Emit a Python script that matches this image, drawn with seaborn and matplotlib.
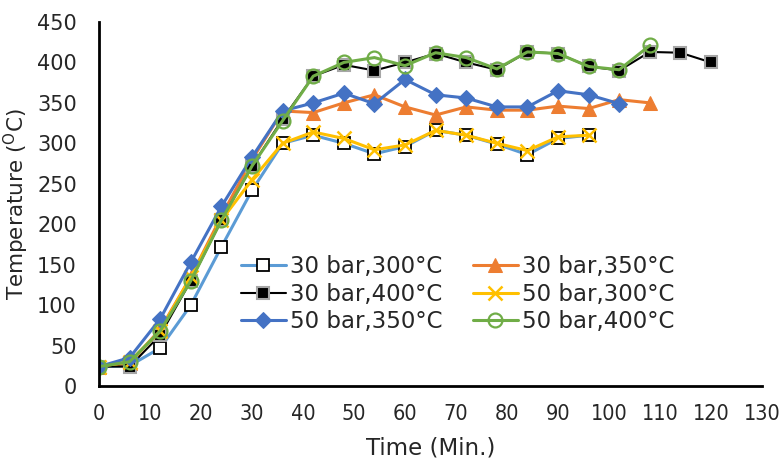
import matplotlib
matplotlib.use("Agg")
import matplotlib.pyplot as plt
import numpy as np
import seaborn as sns

# Temps (min) et températures
time = [0, 6, 12, 18, 24, 30, 36, 42, 48, 54, 60, 66, 72, 78, 84, 90, 96, 102, 108, 114, 120]

t_30_300 = [24, 25, 47, 100, 172, 242, 300, 310, 300, 287, 296, 316, 310, 299, 286, 306, 310]
t_30_350 = [24, 28, 70, 135, 210, 280, 340, 338, 350, 360, 345, 335, 345, 341, 341, 346, 343, 354, 350]
t_30_400 = [24, 24, 63, 130, 205, 272, 330, 383, 397, 390, 400, 411, 400, 391, 413, 411, 395, 390, 413, 412, 400]
t_50_300 = [24, 30, 68, 135, 205, 255, 300, 314, 306, 292, 298, 316, 310, 300, 291, 308, 310]
t_50_350 = [24, 35, 83, 153, 222, 283, 340, 350, 362, 349, 379, 360, 356, 345, 345, 365, 360, 349]
t_50_400 = [24, 30, 68, 130, 205, 272, 328, 383, 400, 406, 396, 412, 406, 392, 413, 411, 395, 391, 421]

labels = ["30 bar,300°C", "30 bar,350°C", "30 bar,400°C",
          "50 bar,300°C", "50 bar,350°C", "50 bar,400°C"]

x_ticks = list(range(0, 131, 10))
y_ticks = list(range(0, 451, 50))

sns.set_style("white")
plt.rcParams["font.family"] = ["DejaVu Sans"]

fig = plt.figure(figsize=(7.84, 4.66), dpi=100)
ax = fig.add_axes([0.1263, 0.1717, 0.8457, 0.7811])

styles = [
    dict(color="#5B9BD5", lw=2.2, marker="s", markersize=9, markerfacecolor="white",
         markeredgecolor="black", markeredgewidth=1.3),
    dict(color="#ED7D31", lw=2.2, marker="^", markersize=10, markerfacecolor="#ED7D31",
         markeredgecolor="#ED7D31"),
    dict(color="black", lw=1.5, marker="s", markersize=8, markerfacecolor="black",
         markeredgecolor="#A6A6A6", markeredgewidth=1.5),
    dict(color="#FFC000", lw=2.2, marker="x", markersize=10, markeredgecolor="#FFC000",
         markeredgewidth=1.8),
    dict(color="#4472C4", lw=2.2, marker="D", markersize=8, markerfacecolor="#4472C4",
         markeredgecolor="#4472C4"),
    dict(color="#70AD47", lw=2.2, marker="o", markersize=10, markerfacecolor="none",
         markeredgecolor="#70AD47", markeredgewidth=1.6),
]

series = [t_30_300, t_30_350, t_30_400, t_50_300, t_50_350, t_50_400]
lines = []
for vals, lab, st in zip(series, labels, styles):
    sns.lineplot(x=time[:len(vals)], y=vals, ax=ax, label=lab, **st)
    lines.append(ax.get_lines()[-1])

ax.set_xlim(0, 130)
ax.set_ylim(0, 450)
ax.set_xticks(x_ticks)
ax.set_yticks(y_ticks)
ax.set_xticklabels([str(v) for v in x_ticks], fontsize=15.5, fontstretch="condensed")
ax.set_yticklabels([str(v) for v in y_ticks], fontsize=15)
ax.tick_params(direction="out", length=5, width=1.5, color="black")
ax.tick_params(axis="x", pad=8)
ax.tick_params(axis="y", pad=11)

for side in ["top", "right"]:
    ax.spines[side].set_visible(False)
for side in ["left", "bottom"]:
    ax.spines[side].set_linewidth(2)
    ax.spines[side].set_color("black")

ax.set_xlabel("Time (Min.)", fontsize=16.5, labelpad=9)
ax.set_ylabel(r"Temperature ($^\mathregular{O}$C)", fontsize=15.5, labelpad=4)

# ordre des colonnes comme dans Excel (2 entrées par rangée)
order = [0, 2, 4, 1, 3, 5]
ax.legend([lines[i] for i in order], [labels[i] for i in order],
          ncol=2, frameon=False, fontsize=16.5, loc="upper left",
          bbox_to_anchor=(241 / 784, 1 - 255 / 466), bbox_transform=fig.transFigure,
          handlelength=1.95, handletextpad=0.17, columnspacing=1.35,
          labelspacing=0.2, borderpad=0, borderaxespad=0)

fig.savefig("out.png", dpi=100)
